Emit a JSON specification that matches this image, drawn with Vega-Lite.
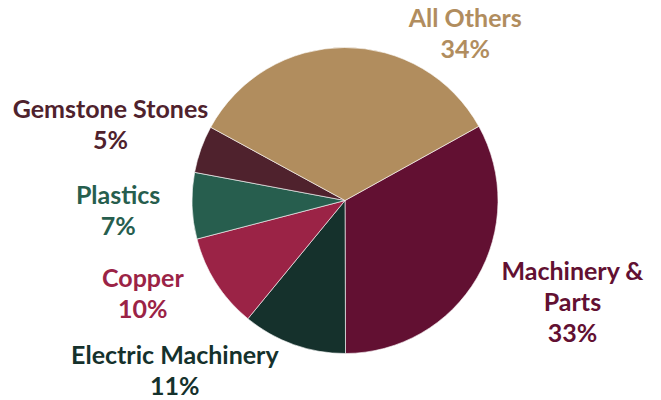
{
  "$schema": "https://vega.github.io/schema/vega-lite/v6.json",
  "width": 632,
  "height": 399,
  "autosize": {"type": "none"},
  "padding": {"left": 29, "top": 1, "right": 0, "bottom": 0},
  "background": "white",
  "view": {"stroke": null},
  "data": {
    "values": [
      {"category": "Machinery & Parts", "share": 33},
      {"category": "Electric Machinery", "share": 11},
      {"category": "Copper", "share": 10},
      {"category": "Plastics", "share": 7},
      {"category": "Gemstone Stones", "share": 5},
      {"category": "All Others", "share": 34}
    ]
  },
  "transform": [
    {"window": [{"op": "row_number", "as": "order"}]},
    {"stack": "share", "groupby": [], "sort": [{"field": "order"}], "as": ["start", "end"]},
    {"calculate": "(datum.start + datum.end) / 2", "as": "mid"},
    {"calculate": "replace(datum.category, 'Machinery & ', 'Machinery &\\n') + '\\n' + datum.share + '%'", "as": "label"}
  ],
  "encoding": {
    "color": {
      "field": "category",
      "type": "nominal",
      "legend": null,
      "scale": {
        "domain": ["Machinery & Parts", "Electric Machinery", "Copper", "Plastics", "Gemstone Stones", "All Others"],
        "range": ["#621032", "#15312C", "#9B2346", "#275E4E", "#4F222D", "#B18D5E"]
      }
    }
  },
  "layer": [
    {
      "mark": {"type": "arc", "outerRadius": 153, "stroke": "white", "strokeWidth": 0.6},
      "encoding": {
        "theta": {
          "field": "start",
          "type": "quantitative",
          "stack": null,
          "scale": {"domain": [0, 100], "range": [1.0647, 7.3479]}
        },
        "theta2": {"field": "end"}
      }
    },
    {
      "mark": {
        "type": "text",
        "radius": 215,
        "font": "Lato",
        "fontSize": 25,
        "fontWeight": "bold",
        "lineBreak": "\n",
        "lineHeight": 31,
        "align": "center",
        "baseline": "middle",
        "dx": {"expr": "[42, -98, -21, -12, -32, 121][datum.order - 1]"},
        "dy": {"expr": "[-37, -47, -37, -12, -18, 33][datum.order - 1]"}
      },
      "encoding": {
        "theta": {"field": "mid", "type": "quantitative", "stack": null},
        "text": {"field": "label", "type": "nominal"}
      }
    }
  ]
}
